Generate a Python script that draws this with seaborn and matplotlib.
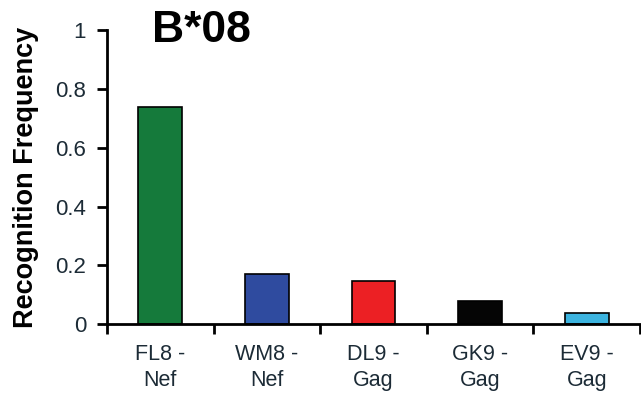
import numpy as np
import pandas as pd
import seaborn as sns
import matplotlib.pyplot as plt
from matplotlib.ticker import FixedLocator

# values
epitopes = ["FL8 -\nNef", "WM8 -\nNef", "DL9 -\nGag", "GK9 -\nGag", "EV9 -\nGag"]
frequency = [0.74, 0.17, 0.148, 0.08, 0.038]
bar_colors = ["#157a3b", "#2f4b9f", "#ec2024", "#050505", "#3cb4e0"]
y_ticks = [0, 0.2, 0.4, 0.6, 0.8, 1]
y_tick_labels = ["0", "0.2", "0.4", "0.6", "0.8", "1"]

sns.set_style("ticks", {"axes.edgecolor": "black", "text.color": "black",
                        "xtick.color": "black", "ytick.color": "black",
                        "axes.labelcolor": "black"})
plt.rcParams["font.family"] = ["Liberation Sans", "DejaVu Sans"]

df = pd.DataFrame({"epitope": epitopes, "freq": frequency})

fig = plt.figure(figsize=(6.41, 3.95), dpi=100)
ax = fig.add_axes([107 / 641, 1 - 324.3 / 395, 533 / 641, (324.3 - 30) / 395])

sns.barplot(
    data=df, x="epitope", y="freq", hue="epitope", palette=bar_colors,
    saturation=1, width=0.41, edgecolor="black", linewidth=1.2,
    legend=False, ax=ax,
)

ax.set_xlim(-0.5, 4.5)
ax.set_ylim(0, 1)
ax.set_yticks(y_ticks)
ax.set_yticklabels(y_tick_labels, fontsize=16, color="#1c2b36")
ax.tick_params(axis="y", direction="out", length=7, width=2, pad=8)
ax.tick_params(axis="x", which="major", length=0, pad=14, labelsize=15.5)
ax.xaxis.set_minor_locator(FixedLocator(np.arange(-0.5, 5, 1)))
ax.tick_params(axis="x", which="minor", direction="out", length=7, width=2)
for lab in ax.get_xticklabels():
    lab.set_linespacing(1.35)
    lab.set_color("#1c2b36")

ax.set_xlabel("")
ax.set_ylabel("Recognition Frequency", fontsize=19.5, fontweight="bold", labelpad=12)

sns.despine(ax=ax)
ax.spines["left"].set_linewidth(2)
ax.spines["bottom"].set_linewidth(2)

fig.text(201 / 641, 1 - 31 / 395, "B*08", fontsize=32, fontweight="bold",
         ha="center", va="center")

fig.savefig("out.png", dpi=100)
